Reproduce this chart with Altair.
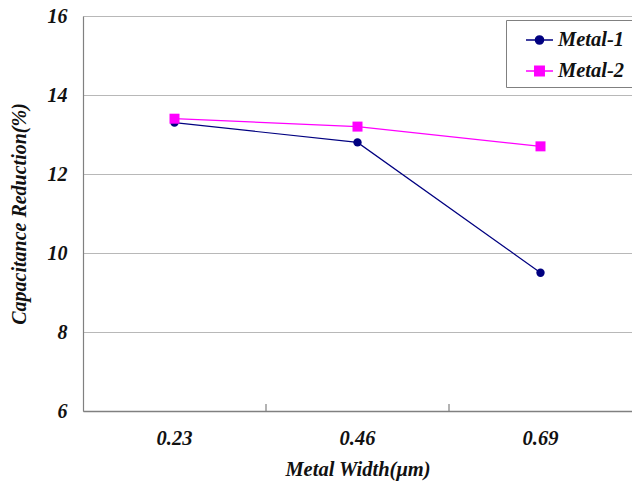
import altair as alt
import pandas as pd

widths = ["0.23", "0.46", "0.69"]
metal1 = [13.3, 12.8, 9.5]
metal2 = [13.4, 13.2, 12.7]
series = ["Metal-1", "Metal-2"]
colors = ["#000080", "#ff00ff"]
y_ticks = [6, 8, 10, 12, 14, 16]

rows = []
for w, v in zip(widths, metal1):
    rows.append({"width": w, "value": v, "series": "Metal-1"})
for w, v in zip(widths, metal2):
    rows.append({"width": w, "value": v, "series": "Metal-2"})
df = pd.DataFrame(rows)
df_bounds = pd.DataFrame({"width": widths[1:]})

FONT = "Liberation Serif"

circle_path = "M-1,0L-0.3,0A0.3,0.3 0 1 1 0.3,0A0.3,0.3 0 1 1 -0.3,0M0.3,0L1,0"
square_path = "M-1,0L-0.35,0M-0.35,-0.35L0.35,-0.35L0.35,0.35L-0.35,0.35ZM0.35,0L1,0"

x_scale = alt.Scale(domain=widths, paddingInner=0, paddingOuter=0)
x_axis = alt.Axis(
    title="Metal Width(\u03bcm)",
    labelAngle=0,
    ticks=False,
    tickSize=0,
    domainColor="#808080",
    domainWidth=1.5,
    grid=False,
    labelFont=FONT,
    labelFontSize=20.5,
    labelFontWeight="bold",
    labelFontStyle="italic",
    labelColor="#111111",
    labelPadding=17,
    titleFont=FONT,
    titleFontSize=20.5,
    titleFontWeight="bold",
    titleFontStyle="italic",
    titleColor="#111111",
    titlePadding=11,
)

y_scale = alt.Scale(domain=[6, 16], nice=False, zero=False)
y_axis = alt.Axis(
    title="Capacitance Reduction(%)",
    values=y_ticks,
    ticks=False,
    tickSize=0,
    domainColor="#808080",
    domainWidth=1.2,
    grid=True,
    gridColor="#b8b8b8",
    gridWidth=1.2,
    labelFont=FONT,
    labelFontSize=20,
    labelFontWeight="bold",
    labelFontStyle="italic",
    labelColor="#111111",
    labelPadding=16,
    titleFont=FONT,
    titleFontSize=20,
    titleFontWeight="bold",
    titleFontStyle="italic",
    titleColor="#111111",
    titlePadding=18,
)

legend = alt.Legend(
    title=None,
    orient="none",
    legendX=423,
    legendY=4,
    padding=5.5,
    strokeColor="#808080",
    fillColor="white",
    symbolOffset=13.5,
    labelOffset=4,
    rowPadding=6,
    symbolSize=729,
    symbolStrokeWidth=1.5,
    symbolOpacity=1,
    labelFont=FONT,
    labelFontSize=20.5,
    labelFontWeight="bold",
    labelFontStyle="italic",
    labelColor="#111111",
    labelExpr="datum.label + '\u00a0\u00a0\u00a0\u200b'",
)

color_enc = alt.Color("series:N", scale=alt.Scale(domain=series, range=colors), legend=legend)

lines = alt.Chart(df).mark_line(strokeWidth=1.2).encode(
    x=alt.X("width:N", scale=x_scale, axis=x_axis),
    y=alt.Y("value:Q", scale=y_scale, axis=y_axis),
    color=color_enc,
)

pts1 = alt.Chart(df).transform_filter(alt.datum.series == series[0]).mark_circle(
    size=70, opacity=1, color=colors[0]
).encode(
    x=alt.X("width:N", scale=x_scale, axis=x_axis),
    y=alt.Y("value:Q", scale=y_scale, axis=y_axis),
)

pts2 = alt.Chart(df).transform_filter(alt.datum.series == series[1]).mark_square(
    size=100, opacity=1, color=colors[1]
).encode(
    x=alt.X("width:N", scale=x_scale, axis=x_axis),
    y=alt.Y("value:Q", scale=y_scale, axis=y_axis),
)

legend_layer = (
    alt.Chart(df)
    .transform_filter("false")
    .mark_point(filled=True, size=729, strokeWidth=1.5, opacity=1)
    .encode(
        color=color_enc,
        stroke=alt.Stroke("series:N", scale=alt.Scale(domain=series, range=colors), legend=legend),
        shape=alt.Shape("series:N", scale=alt.Scale(domain=series, range=[circle_path, square_path]), legend=legend),
    )
)

bounds = alt.Chart(df_bounds).mark_rule(color="#808080", strokeWidth=1.2).encode(
    x=alt.X("width:N", scale=x_scale, axis=x_axis, bandPosition=0),
    y=alt.value(388),
    y2=alt.value(395),
)

chart = (
    alt.layer(lines, bounds, pts1, pts2, legend_layer)
    .properties(
        width=549,
        height=395,
        autosize=alt.AutoSizeParams(type="none"),
        padding={"left": 83, "top": 16, "right": 0, "bottom": 77},
    )
    .configure_view(stroke=None)
    .configure(background="white")
)

chart.save("out.html", embed_options={"renderer": "svg", "actions": False})
